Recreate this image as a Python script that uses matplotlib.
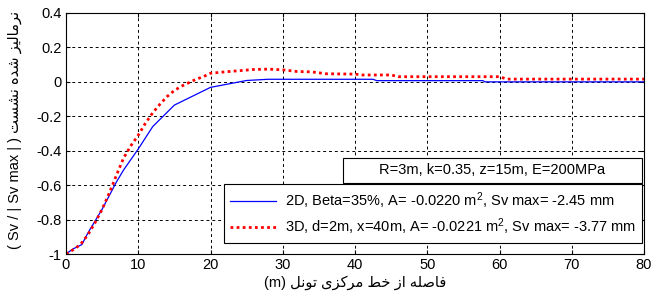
import numpy as np
import matplotlib.pyplot as plt
from matplotlib.patches import Rectangle

plt.rcParams['font.family'] = ['Liberation Sans', 'DejaVu Sans']
plt.rcParams['mathtext.fontset'] = 'custom'
plt.rcParams['mathtext.rm'] = 'Liberation Sans'
plt.rcParams['mathtext.it'] = 'Liberation Sans'

# data
x_2d = [0, 1, 2.2, 3, 4, 5, 6, 7, 8, 9, 10, 12, 15, 20, 25, 28, 42.5, 43, 57.7, 58, 80]
y_2d = [-1, -0.97, -0.945, -0.88, -0.81, -0.74, -0.66, -0.58, -0.51, -0.45, -0.39,
        -0.26, -0.135, -0.032, 0.008, 0.015, 0.015, 0.007, 0.007, 0.0, 0.0]

x_3d = [0, 1, 2, 3, 4, 5, 6, 7, 8, 9, 10, 11, 12, 13, 14, 15, 16, 17, 18, 19, 20,
        22, 24, 26, 28, 30, 32, 34, 36, 40, 41, 45, 46, 60, 61, 80]
y_3d = [-1, -0.975, -0.945, -0.89, -0.82, -0.74, -0.645, -0.54, -0.44, -0.37, -0.31,
        -0.24, -0.18, -0.13, -0.085, -0.05, -0.025, -0.005, 0.015, 0.03, 0.05,
        0.058, 0.065, 0.072, 0.074, 0.07, 0.06, 0.058, 0.047, 0.045, 0.04, 0.04,
        0.03, 0.03, 0.016, 0.016]

label_2d = r'2D, Beta=35%, A= -0.0220 m$^{2}$, Sv max= -2.45 mm'
label_3d = r'3D, d=2m, x=40m, A= -0.0221 m$^{2}$, Sv max= -3.77 mm'
info_text = 'R=3m, k=0.35, z=15m, E=200MPa'

x_ticks = [0, 10, 20, 30, 40, 50, 60, 70, 80]
y_ticks = [-1, -0.8, -0.6, -0.4, -0.2, 0, 0.2, 0.4]
y_tick_labels = ['-1', '-0.8', '-0.6', '-0.4', '-0.2', '0', '0.2', '0.4']

x_title_fa = 'فاصله از خط مرکزی تونل'
y_title_fa = 'نرمالیز شده نشست'


# matplotlib has no arabic shaping, so pick presentation forms by hand
FORMS = {
    'ا': '\uFE8D\uFE8E', 'د': '\uFEA9\uFEAA', 'ر': '\uFEAD\uFEAE',
    'ز': '\uFEAF\uFEB0', 'و': '\uFEED\uFEEE',
    'ت': '\uFE95\uFE96\uFE97\uFE98', 'خ': '\uFEA5\uFEA6\uFEA7\uFEA8',
    'س': '\uFEB1\uFEB2\uFEB3\uFEB4', 'ش': '\uFEB5\uFEB6\uFEB7\uFEB8',
    'ص': '\uFEB9\uFEBA\uFEBB\uFEBC', 'ط': '\uFEC1\uFEC2\uFEC3\uFEC4',
    'ف': '\uFED1\uFED2\uFED3\uFED4', 'ل': '\uFEDD\uFEDE\uFEDF\uFEE0',
    'م': '\uFEE1\uFEE2\uFEE3\uFEE4', 'ن': '\uFEE5\uFEE6\uFEE7\uFEE8',
    'ه': '\uFEE9\uFEEA\uFEEB\uFEEC', 'ک': '\uFB8E\uFB8F\uFB90\uFB91',
    'ی': '\uFBFC\uFBFD\uFBFE\uFBFF',
}


def shape_fa(s):
    out = []
    for i, ch in enumerate(s):
        if ch not in FORMS:
            out.append(ch)
            continue
        f = FORMS[ch]
        prev_j = i > 0 and s[i - 1] in FORMS and len(FORMS[s[i - 1]]) == 4
        next_j = len(f) == 4 and i < len(s) - 1 and s[i + 1] in FORMS
        if prev_j and next_j:
            out.append(f[3])
        elif prev_j:
            out.append(f[1])
        elif next_j:
            out.append(f[2])
        else:
            out.append(f[0])
    return ''.join(out[::-1])


fig = plt.figure(figsize=(6.61, 2.98), dpi=100)
ax = fig.add_axes([66 / 661, 44 / 298, 578 / 661, 241 / 298])

ax.plot(x_2d, y_2d, color='#0000ff', lw=0.9, label=label_2d)
ax.plot(x_3d, y_3d, color='#ff0000', lw=2.0, ls=(0, (1, 1.2)), label=label_3d)

ax.set_xlim(0, 80)
ax.set_ylim(-1, 0.4)
ax.set_xticks(x_ticks)
ax.set_yticks(y_ticks)
ax.set_yticklabels(y_tick_labels)
ax.tick_params(direction='in', length=3, labelsize=10.5, top=True, right=True, pad=3)
ax.grid(True, color='black', ls=(0, (3, 3)), lw=0.7)
for sp_ in ax.spines.values():
    sp_.set_linewidth(0.8)

# info box
ax.add_patch(Rectangle((0.479, 0.295), 0.5175, 0.103, transform=ax.transAxes,
                       facecolor='white', edgecolor='black', lw=0.8, zorder=5))
ax.text(0.7378, 0.3465, info_text, transform=ax.transAxes, ha='center', va='center',
        fontsize=10.5, zorder=6)

leg = ax.legend(loc='lower right', bbox_to_anchor=(0.9965, 0.046), fontsize=10.5,
                fancybox=False, edgecolor='black', framealpha=1, handlelength=3.2,
                handletextpad=0.6, borderpad=0.4, labelspacing=0.4, borderaxespad=0)
leg.get_frame().set_linewidth(0.8)

fig.text(355 / 661, 1 - 283 / 298, '(m) ' + shape_fa(x_title_fa),
         ha='center', va='center', fontsize=10.5)
fig.text(15 / 661, 1 - 130 / 298, '( Sv / | Sv max | ) ' + shape_fa(y_title_fa),
         ha='center', va='center', rotation=90, fontsize=10.5)

fig.savefig('out.png', dpi=100, facecolor='white')
